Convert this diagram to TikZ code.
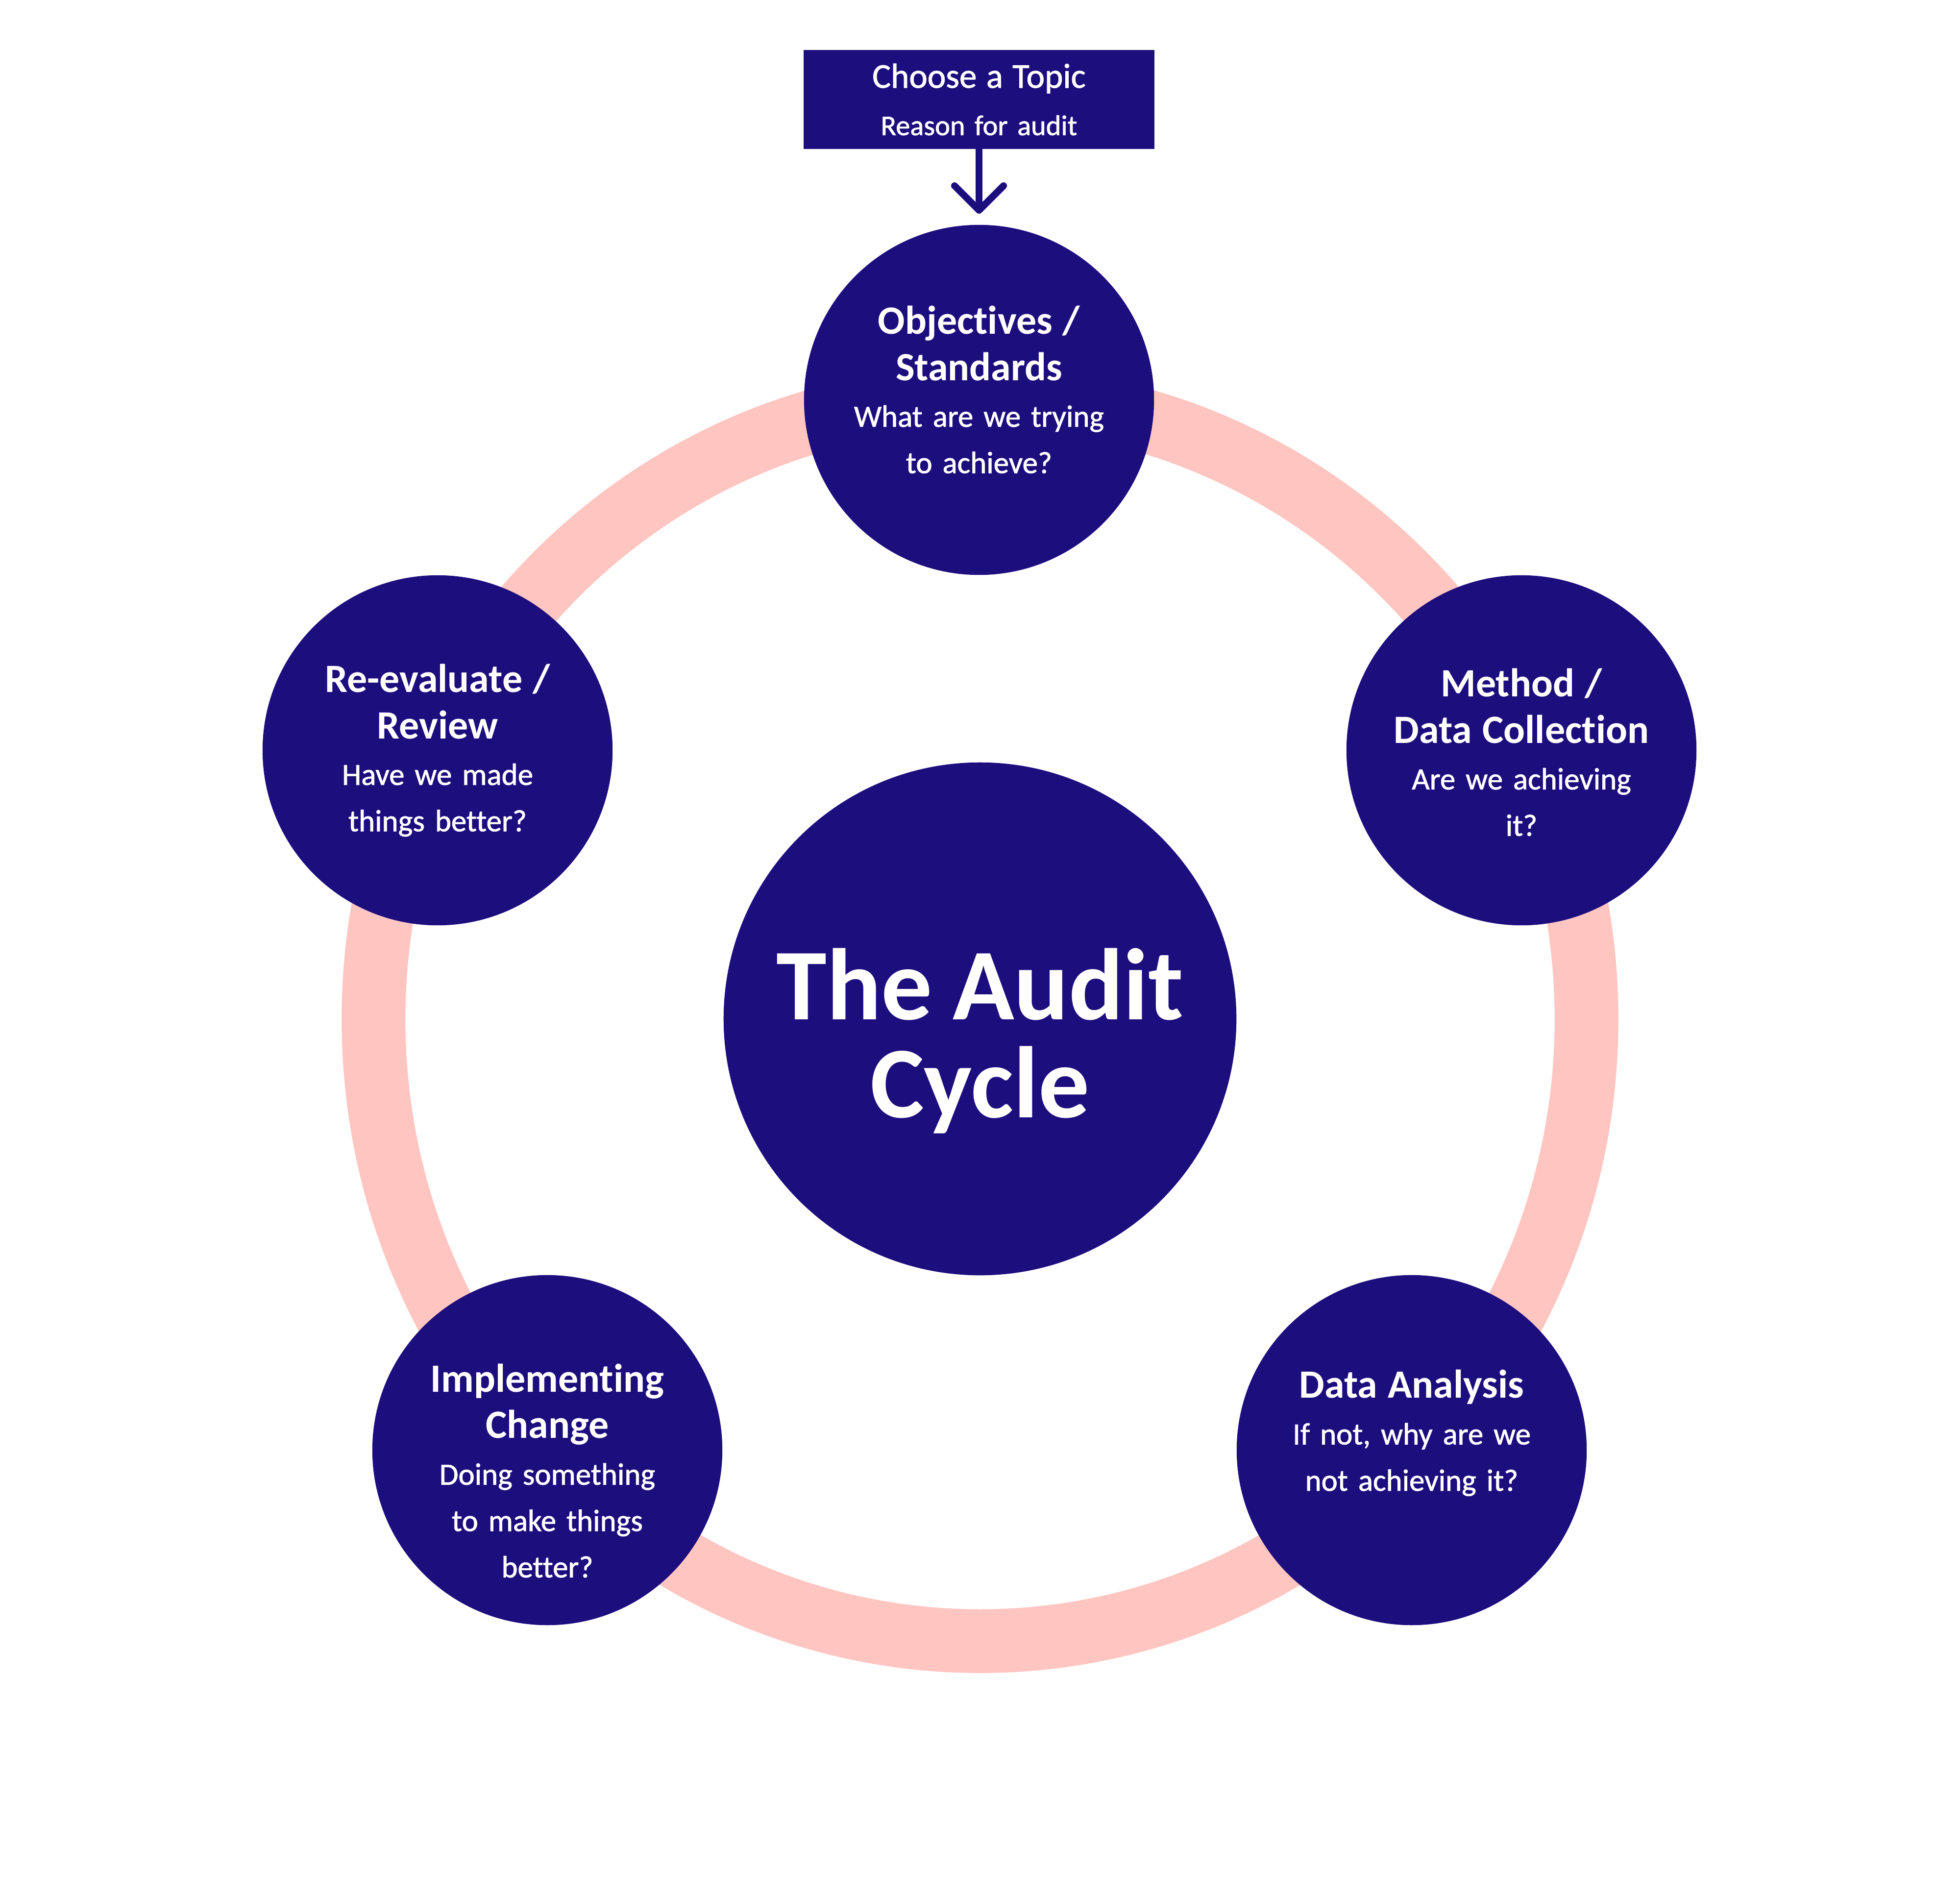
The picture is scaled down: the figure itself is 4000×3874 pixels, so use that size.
\documentclass[tikz,border=0pt]{standalone}
\usepackage{fontspec}
\setmainfont{Carlito}[Ligatures=NoCommon]
\newfontfamily\medfont{Carlito}[Ligatures=NoCommon, FakeBold=1.2]
\usetikzlibrary{arrows.meta, calc}
\definecolor{navy}{HTML}{1D0E7E}
\definecolor{blush}{HTML}{FFC5C1}
\newcommand\heading[1]{{\rmfamily\bfseries\fontsize{23.3}{26.9}\selectfont #1}}

\begin{document}
\begin{tikzpicture}[x=0.01cm, y=-0.01cm,
    stage/.style={circle, fill=navy, minimum size=7.14cm, inner sep=0pt},
    stagetext/.style={text=white, text width=6.6cm, align=center, inner sep=0pt,
      font=\medfont\fontsize{17.9}{26.9}\selectfont},
    hub/.style={circle, fill=navy, minimum size=10.46cm, inner sep=0pt},
    hubtext/.style={text=white, text width=9cm, align=center, inner sep=0pt,
      font=\bfseries\fontsize{59}{56.7}\selectfont},
    topicbox/.style={rectangle, fill=navy, minimum width=7.15cm, minimum height=2.01cm,
      inner sep=0pt, text=white, text width=7cm, align=center,
      font=\medfont\fontsize{16.6}{27.5}\selectfont},
    ring/.style={blush, line width=1.3cm},
    flow/.style={navy, line width=0.14cm, shorten >=0.22cm,
      -{Straight Barb[length=0.5cm, width=1.0cm, round]}}]
  \useasboundingbox (0,0) rectangle (4000,3874);

  \draw[ring] (2000,2080) ellipse [x radius=12.37cm, y radius=12.68cm];

  \node[topicbox] (topic) at (1998,203) {{\fontsize{20.2}{27.5}\selectfont Choose a Topic}\\Reason for audit};

  \node[hub]   (hub) at (2000,2079) {};
  \node[stage] (obj) at (1998,816)  {};
  \node[stage] (method) at (3105,1531) {};
  \node[stage] (analysis) at (2881,2959) {};
  \node[stage] (change) at (1117,2959) {};
  \node[stage] (review) at (893,1531) {};

  \node[hubtext] (hubtxt) at ($(hub)+(0,45)$) {\spaceskip=0.2em\relax The Audit\\Cycle};
  \node[stagetext] (objtxt) at ($(obj)+(0,-21)$)
    {\heading{Objectives /}\\\heading{Standards}\\What are we trying\\to achieve?};
  \node[stagetext] (methodtxt) at ($(method)+(0,4)$)
    {\heading{Method /}\\\heading{Data Collection}\\Are we achieving\\it?};
  \node[stagetext] (analysistxt) at ($(analysis)+(0,-35)$)
    {\heading{Data Analysis}\\If not, why are we\\not achieving it?};
  \node[stagetext] (changetxt) at ($(change)+(0,42)$)
    {\heading{Implementing}\\\heading{Change}\\Doing something\\to make things\\better?};
  \node[stagetext] (reviewtxt) at (review)
    {\heading{Re-evaluate /}\\\heading{Review}\\Have we made\\things better?};

  \draw[flow] (topic) -- (obj);
\end{tikzpicture}
\end{document}
